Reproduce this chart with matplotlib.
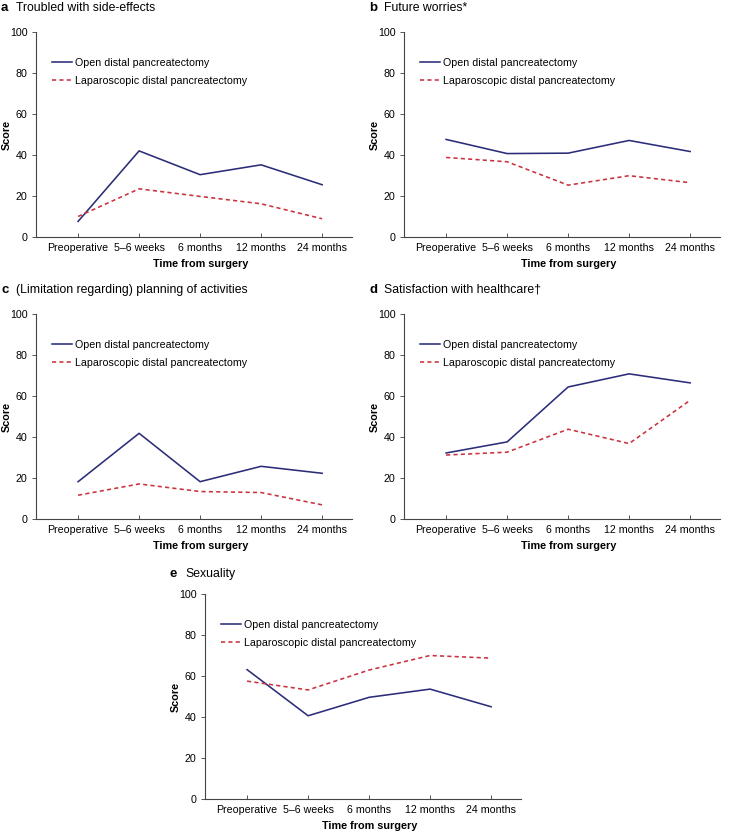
import matplotlib
matplotlib.use('Agg')
from matplotlib import pyplot as plt

plt.rcParams['font.family'] = ['Liberation Sans', 'DejaVu Sans']

# data
times = ['Preoperative', '5–6 weeks', '6 months', '12 months', '24 months']
series_names = ['Open distal pancreatectomy', 'Laparoscopic distal pancreatectomy']

panel_letters = ['a', 'b', 'c', 'd', 'e']
panel_titles = ['Troubled with side-effects', 'Future worries*',
                '(Limitation regarding) planning of activities',
                'Satisfaction with healthcare†', 'Sexuality']

open_a = [7.6, 42.0, 30.4, 35.2, 25.5]
lap_a = [10.0, 23.5, 19.8, 16.2, 8.9]
open_b = [47.6, 40.7, 40.9, 47.1, 41.7]
lap_b = [38.8, 36.7, 25.3, 29.9, 26.5]
open_c = [18.2, 41.8, 18.2, 25.7, 22.3]
lap_c = [11.6, 17.1, 13.4, 12.9, 6.9]
open_d = [32.2, 37.6, 64.4, 70.8, 66.4]
lap_d = [31.2, 32.6, 43.8, 36.8, 57.9]
open_e = [63.1, 40.6, 49.6, 53.6, 45.0]
lap_e = [57.5, 53.2, 62.9, 70.0, 68.7]

open_vals = [open_a, open_b, open_c, open_d, open_e]
lap_vals = [lap_a, lap_b, lap_c, lap_d, lap_e]

blue = '#2b2d78'
red = '#c9323f'

# axes boxes in pixels: left, bottom (from top), width, height
W, H = 736, 831
boxes = [
    (36, 237, 316, 205),
    (404, 237, 316, 205),
    (36, 519, 316, 205),
    (404, 519, 316, 205),
    (205, 799, 316, 205),
]
title_gap = [24, 24, 24, 24, 20]  # px between title and top of axis

fig = plt.figure(figsize=(W / 100, H / 100), dpi=100)

for k in range(5):
    x0, y0, w, h = boxes[k]
    ax = fig.add_axes([x0 / W, 1 - y0 / H, w / W, h / H])
    xs = list(range(len(times)))
    ax.plot(xs, open_vals[k], color=blue, lw=1.15, label=series_names[0])
    ax.plot(xs, lap_vals[k], color=red, lw=1.15, ls=(0, (2.6, 2.0)), label=series_names[1])

    ax.set_xlim(-0.69, 4.49)
    ax.set_ylim(0, 100)
    ax.set_yticks([0, 20, 40, 60, 80, 100])
    ax.set_xticks(xs)
    ax.set_xticklabels(times)
    ax.tick_params(axis='x', direction='in', length=3, width=0.7, labelsize=7.7, pad=4, color='#555555')
    ax.tick_params(axis='y', direction='out', length=3, width=0.7, labelsize=7.7, pad=3, color='#555555')
    for s in ['top', 'right']:
        ax.spines[s].set_visible(False)
    for s in ['left', 'bottom']:
        ax.spines[s].set_linewidth(0.8)
        ax.spines[s].set_color('#444444')

    ax.set_xlabel('Time from surgery', fontsize=7.8, fontweight='bold')
    ax.xaxis.set_label_coords(0.52, -27 / h)
    ax.xaxis.label.set_va('center')
    ax.set_ylabel('Score', fontsize=7.8, fontweight='bold', va='center')
    ax.yaxis.set_label_coords(-29 / w, 0.5)

    ax.legend(loc='upper left', bbox_to_anchor=(0.02, 0.92), frameon=False,
              fontsize=7.7, handlelength=1.9, handletextpad=0.3, labelspacing=0.75)

    # panel title: bold letter + plain text
    tx = (x0 - 35) / W
    ty = 1 - (y0 - h - title_gap[k]) / H
    fig.text(tx, ty, panel_letters[k], fontsize=9.5, fontweight='bold', va='center', ha='left')
    fig.text(tx + 15 / W, ty, panel_titles[k], fontsize=8.8, va='center', ha='left')

plt.savefig('out.png', dpi=100)
